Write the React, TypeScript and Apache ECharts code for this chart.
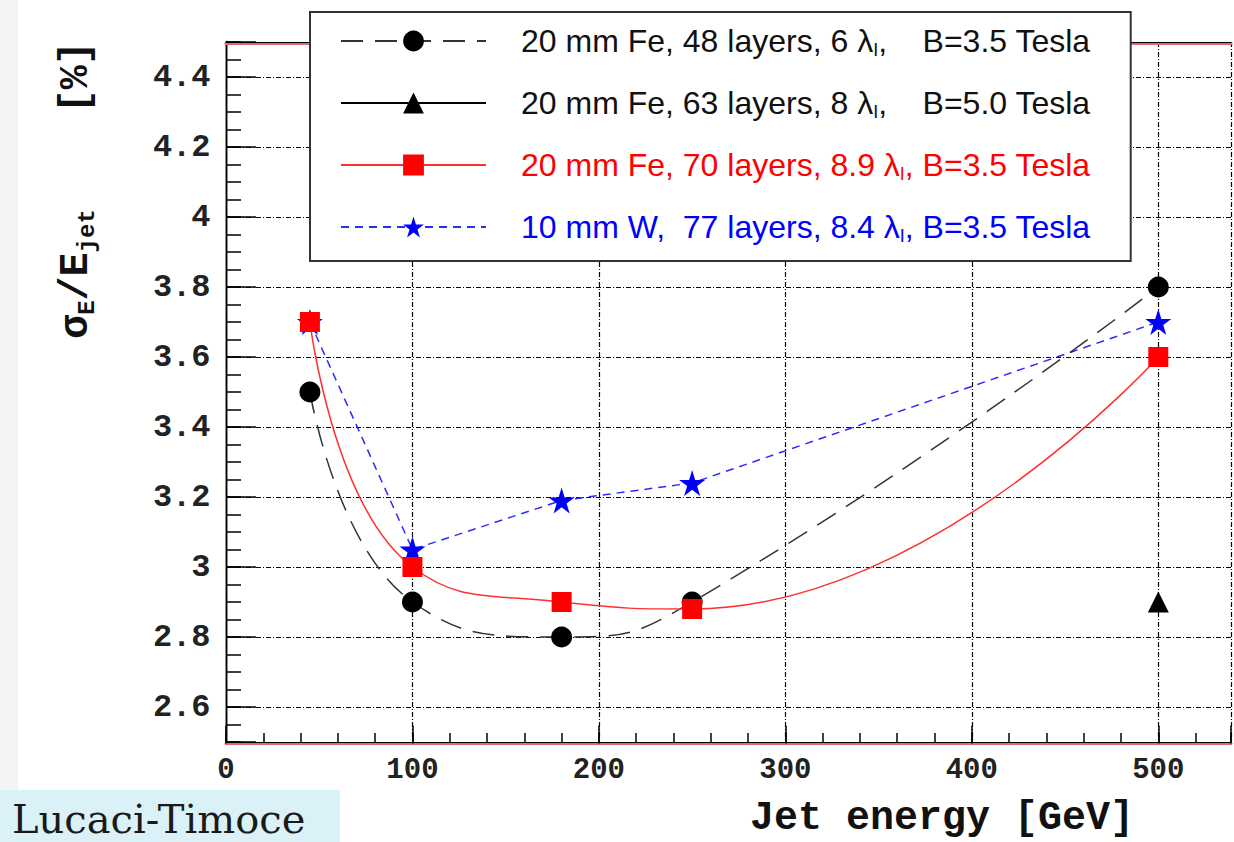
import React, { useEffect, useRef } from "react";
import * as echarts from "echarts";

// ---- data ----
const energy = [45, 100, 180, 250, 500];
const fe48 = [3.5, 2.9, 2.8, 2.9, 3.8];
const fe63Energy = [500];
const fe63 = [2.9];
const fe70 = [3.7, 3.0, 2.9, 2.88, 3.6];
const w77 = [3.7, 3.05, 3.19, 3.24, 3.7];

const seriesNames = ["Fe48", "Fe63", "Fe70", "W77"];
const legendPre = [
  "20 mm Fe, 48 layers, 6 λ",
  "20 mm Fe, 63 layers, 8 λ",
  "20 mm Fe, 70 layers, 8.9 λ",
  "10 mm W,  77 layers, 8.4 λ",
];
const legendSub = ["I", "I", "I", "I"];
const legendPost = [",    B=3.5 Tesla", ",    B=5.0 Tesla", ", B=3.5 Tesla", ", B=3.5 Tesla"];
const legendColorKey = ["k", "k", "r", "b"];

const xTitle = "Jet energy [GeV]";
const footer = "Lucaci-Timoce";

const STAR =
  "path://M50,0 L61.2,34.5 L97.6,34.5 L68.2,55.9 L79.4,90.5 L50,69.1 L20.6,90.5 L31.8,55.9 L2.4,34.5 L38.8,34.5 Z";

const MONO = "'Liberation Mono', 'DejaVu Sans Mono', monospace";
const NARROW = "'Liberation Sans Narrow', 'Arial Narrow', 'Liberation Sans', sans-serif";
const GRID_DASH = [5, 2, 1, 2];
const PINK = "#e06a6a";

export default function App() {
  const ref = useRef<HTMLDivElement>(null);
  useEffect(() => {
    if (!ref.current) return;
    const chart = echarts.init(ref.current, null, { renderer: "svg" });

    const colors: Record<string, string> = { k: "#111111", r: "#ff0000", b: "#0000ff" };
    const rich: Record<string, any> = {};
    Object.keys(colors).forEach((k) => {
      rich[k + "0"] = { color: colors[k], fontSize: 32, fontFamily: NARROW, lineHeight: 36, padding: [0, 0, 0, 30] };
      rich[k] = { color: colors[k], fontSize: 32, fontFamily: NARROW, lineHeight: 36 };
      rich[k + "s"] = { color: colors[k], fontSize: 18, fontFamily: NARROW, lineHeight: 18, verticalAlign: "bottom" };
    });

    const option: any = {
      animation: false,
      backgroundColor: "#ffffff",
      grid: { left: 226, top: 42, right: 0, bottom: 100, containLabel: false },
      legend: {
        data: seriesNames,
        orient: "vertical",
        left: 310,
        top: 12,
        padding: [13, 40, 16, 30],
        itemGap: 28,
        itemWidth: 145,
        itemHeight: 26,
        backgroundColor: "#ffffff",
        borderColor: "#333333",
        borderWidth: 2,
        borderRadius: 0,
        selectedMode: false,
        z: 10,
        formatter: (name: string) => {
          const i = seriesNames.indexOf(name);
          const c = legendColorKey[i];
          return `{${c}0|${legendPre[i]}}{${c}s|${legendSub[i]}}{${c}|${legendPost[i]}}`;
        },
        textStyle: { rich },
      },
      xAxis: [
        {
          type: "value",
          min: 0,
          max: 539,
          interval: 100,
          position: "bottom",
          offset: 1.5,
          axisLine: { show: true, lineStyle: { color: PINK, width: 3 } },
          axisTick: { show: true, inside: true, length: 18, lineStyle: { color: "#000", width: 1.5 } },
          axisLabel: {
            margin: 12,
            fontFamily: MONO,
            fontWeight: "bold",
            fontSize: 29,
            color: "#222",
            formatter: (v: number) => (v % 100 === 0 ? String(v) : ""),
          },
          splitLine: { show: true, lineStyle: { color: "#000", width: 1.2, type: GRID_DASH } },
        },
        {
          type: "value",
          min: 0,
          max: 539,
          interval: 20,
          position: "bottom",
          axisLine: { show: true, lineStyle: { color: "#000", width: 1 } },
          axisTick: { show: true, inside: true, length: 9, lineStyle: { color: "#000", width: 1.5 } },
          axisLabel: { show: false },
          splitLine: { show: false },
        },
        {
          type: "value",
          min: 0,
          max: 539,
          position: "top",
          offset: -1.5,
          axisLine: { show: true, lineStyle: { color: PINK, width: 3 } },
          axisTick: { show: false },
          axisLabel: { show: false },
          splitLine: { show: false },
        },
        {
          type: "value",
          min: 0,
          max: 539,
          position: "top",
          axisLine: { show: true, lineStyle: { color: "#000", width: 1 } },
          axisTick: { show: false },
          axisLabel: { show: false },
          splitLine: { show: false },
        },
      ],
      yAxis: [
        {
          type: "value",
          min: 2.5,
          max: 4.5,
          splitNumber: 10,
          position: "left",
          offset: 1.5,
          axisLine: { show: true, lineStyle: { color: PINK, width: 3 } },
          axisTick: { show: true, inside: true, length: 30, lineStyle: { color: "#000", width: 1.5 } },
          axisLabel: {
            margin: 14,
            fontFamily: MONO,
            fontWeight: "bold",
            fontSize: 32,
            color: "#222",
            formatter: (v: number) => {
              const r = Math.round(v * 10);
              return r % 2 === 0 ? String(r / 10) : "";
            },
          },
          splitLine: { show: true, lineStyle: { color: "#000", width: 1.2, type: GRID_DASH } },
        },
        {
          type: "value",
          min: 2.5,
          max: 4.5,
          interval: 0.05,
          position: "left",
          axisLine: { show: true, lineStyle: { color: "#000", width: 1 } },
          axisTick: { show: true, inside: true, length: 15, lineStyle: { color: "#000", width: 1.5 } },
          axisLabel: { show: false },
          splitLine: { show: false },
        },
      ],
      series: [
        {
          name: seriesNames[3],
          type: "line",
          data: energy.map((e, i) => [e, w77[i]]),
          symbol: STAR,
          symbolSize: 26,
          itemStyle: { color: "#0000ff" },
          lineStyle: { color: "#2b2bff", width: 1.5, type: [8, 6] },
        },
        {
          name: seriesNames[0],
          type: "line",
          data: energy.map((e, i) => [e, fe48[i]]),
          smooth: 0.5,
          symbol: "circle",
          symbolSize: 21,
          itemStyle: { color: "#000000" },
          lineStyle: { color: "#333333", width: 1.5, type: [22, 12] },
        },
        {
          name: seriesNames[1],
          type: "line",
          data: fe63Energy.map((e, i) => [e, fe63[i]]),
          symbol: "triangle",
          symbolSize: 21,
          itemStyle: { color: "#000000" },
          lineStyle: { color: "#000000", width: 1.5 },
        },
        {
          name: seriesNames[2],
          type: "line",
          data: energy.map((e, i) => [e, fe70[i]]),
          smooth: 0.5,
          symbol: "rect",
          symbolSize: 20,
          itemStyle: { color: "#ff0000" },
          lineStyle: { color: "#ff3030", width: 1.5 },
        },
      ],
      graphic: [
        {
          type: "rect",
          shape: { x: 0, y: 0, width: 18, height: 790 },
          style: { fill: "#f4f4f4" },
          z: 0,
        },
        {
          type: "rect",
          shape: { x: 0, y: 790, width: 340, height: 52 },
          style: { fill: "#daf2f7" },
          z: 1,
        },
        {
          type: "text",
          x: 12,
          y: 819,
          z: 2,
          style: {
            text: footer,
            fontFamily: "'DejaVu Serif', 'Liberation Serif', serif",
            fontSize: 40,
            fill: "#1a1a1a",
            align: "left",
            verticalAlign: "middle",
          },
        },
        {
          type: "text",
          x: 750,
          y: 818,
          z: 2,
          style: {
            text: xTitle,
            fontFamily: MONO,
            fontWeight: "bold",
            fontSize: 40,
            fill: "#111",
            align: "left",
            verticalAlign: "middle",
          },
        },
        {
          type: "text",
          x: 76,
          y: 190,
          rotation: Math.PI / 2,
          z: 2,
          style: {
            text: "{m|σ}{s|E}{m|/E}{s|jet}{m|    [%]}",
            align: "center",
            verticalAlign: "middle",
            fill: "#111",
            rich: {
              m: { fontFamily: MONO, fontWeight: "bold", fontSize: 40, lineHeight: 46, fill: "#111" },
              s: { fontFamily: MONO, fontWeight: "bold", fontSize: 24, lineHeight: 24, verticalAlign: "bottom", fill: "#111" },
            },
          },
        },
      ],
    };
    chart.setOption(option);
    return () => chart.dispose();
  }, []);
  return (
    <div
      ref={ref}
      style={{ position: "fixed", left: 0, top: 0, width: 1234, height: 842, background: "#fff" }}
    />
  );
}
